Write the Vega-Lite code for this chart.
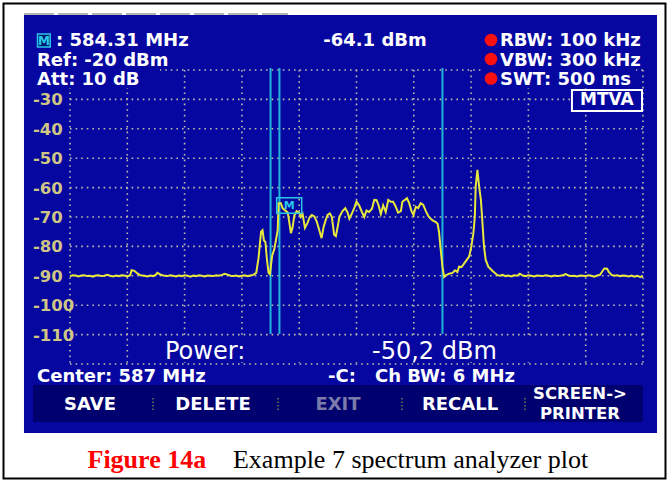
{
"$schema": "https://vega.github.io/schema/vega-lite/v6.json",
"width": 573, "height": 294,
"autosize": {"type": "none"},
"padding": {"left": 70, "top": 70, "right": 26, "bottom": 118},
"background": "white",
"config": {"view": {"stroke": null}},
"data": {"values": [{}]},
"datasets": {
"gridx": [{"g":577},{"g":579},{"g":581},{"g":583},{"g":585},{"g":587},{"g":589},{"g":591},{"g":593},{"g":595},{"g":597}],
"gridy": [{"v":-20},{"v":-30},{"v":-40},{"v":-50},{"v":-60},{"v":-70},{"v":-80},{"v":-90},{"v":-100},{"v":-110},{"v":-120}],
"ylabels": [{"v":-30,"t":"-30"},{"v":-40,"t":"-40"},{"v":-50,"t":"-50"},{"v":-60,"t":"-60"},{"v":-70,"t":"-70"},{"v":-80,"t":"-80"},{"v":-90,"t":"-90"},{"v":-100,"t":"-100"},{"v":-110,"t":"-110"}],
"vlines": [{"f":584.0},{"f":584.31},{"f":590.0}],
"seps": [{"s":579.897},{"s":584.26},{"s":588.588},{"s":592.881}],
"trace": [
{"f":577.0,"p":-90.1},{"f":577.1,"p":-89.8},{"f":577.2,"p":-89.9},{"f":577.3,"p":-90.2},{"f":577.4,"p":-89.9},{"f":577.5,"p":-89.8},{"f":577.6,"p":-90.1},{"f":577.7,"p":-90.0},{"f":577.8,"p":-90.3},{"f":577.9,"p":-89.9},
{"f":578.0,"p":-89.8},{"f":578.1,"p":-90.1},{"f":578.2,"p":-90.0},{"f":578.3,"p":-89.7},{"f":578.4,"p":-90.0},{"f":578.5,"p":-90.2},{"f":578.6,"p":-89.9},{"f":578.7,"p":-90.1},{"f":578.8,"p":-89.8},{"f":578.9,"p":-89.9},
{"f":579.0,"p":-90.2},{"f":579.1,"p":-89.8},{"f":579.15,"p":-88.1},{"f":579.25,"p":-88.3},{"f":579.35,"p":-89.2},{"f":579.45,"p":-89.8},{"f":579.6,"p":-90.0},{"f":579.7,"p":-90.2},{"f":579.8,"p":-89.9},{"f":579.9,"p":-90.1},
{"f":580.0,"p":-89.6},{"f":580.05,"p":-89.0},{"f":580.15,"p":-89.5},{"f":580.25,"p":-89.9},{"f":580.4,"p":-90.1},{"f":580.5,"p":-89.8},{"f":580.6,"p":-90.0},{"f":580.7,"p":-90.2},{"f":580.8,"p":-89.9},{"f":580.9,"p":-90.1},
{"f":581.0,"p":-89.8},{"f":581.1,"p":-90.0},{"f":581.2,"p":-90.3},{"f":581.3,"p":-89.9},{"f":581.4,"p":-90.1},{"f":581.5,"p":-89.8},{"f":581.6,"p":-90.0},{"f":581.7,"p":-90.2},{"f":581.8,"p":-89.9},{"f":581.9,"p":-90.0},
{"f":582.0,"p":-90.1},{"f":582.1,"p":-89.8},{"f":582.2,"p":-90.0},{"f":582.3,"p":-89.7},{"f":582.4,"p":-89.3},{"f":582.5,"p":-89.6},{"f":582.6,"p":-90.0},{"f":582.7,"p":-90.1},{"f":582.8,"p":-89.9},{"f":582.9,"p":-90.2},
{"f":583.0,"p":-90.0},{"f":583.1,"p":-89.8},{"f":583.2,"p":-90.1},{"f":583.3,"p":-89.9},{"f":583.4,"p":-89.7},{"f":583.5,"p":-89.0},{"f":583.58,"p":-84.0},{"f":583.63,"p":-79.0},{"f":583.67,"p":-75.0},{"f":583.72,"p":-74.5},
{"f":583.77,"p":-78.0},{"f":583.82,"p":-78.5},{"f":583.87,"p":-84.0},{"f":583.93,"p":-89.0},{"f":583.98,"p":-89.5},{"f":584.02,"p":-86.0},{"f":584.06,"p":-83.0},{"f":584.13,"p":-81.0},{"f":584.19,"p":-77.8},{"f":584.25,"p":-74.4},
{"f":584.28,"p":-65.3},{"f":584.36,"p":-65.3},{"f":584.42,"p":-67.0},{"f":584.54,"p":-68.0},{"f":584.60,"p":-68.5},{"f":584.65,"p":-71.5},{"f":584.71,"p":-75.5},{"f":584.77,"p":-73.5},{"f":584.83,"p":-69.5},{"f":584.91,"p":-68.0},
{"f":585.00,"p":-68.5},{"f":585.06,"p":-70.0},{"f":585.12,"p":-69.0},{"f":585.20,"p":-73.7},{"f":585.29,"p":-72.0},{"f":585.37,"p":-70.0},{"f":585.44,"p":-69.3},{"f":585.53,"p":-69.8},{"f":585.61,"p":-71.5},{"f":585.70,"p":-74.4},
{"f":585.78,"p":-77.2},{"f":585.85,"p":-73.5},{"f":585.91,"p":-71.5},{"f":585.99,"p":-69.3},{"f":586.07,"p":-68.8},{"f":586.14,"p":-70.0},{"f":586.22,"p":-76.0},{"f":586.28,"p":-76.5},{"f":586.34,"p":-73.5},{"f":586.40,"p":-70.0},
{"f":586.51,"p":-68.0},{"f":586.61,"p":-67.0},{"f":586.69,"p":-68.5},{"f":586.75,"p":-70.6},{"f":586.83,"p":-69.0},{"f":586.92,"p":-67.0},{"f":587.00,"p":-64.8},{"f":587.09,"p":-66.0},{"f":587.19,"p":-68.3},{"f":587.27,"p":-70.0},
{"f":587.35,"p":-67.8},{"f":587.44,"p":-68.3},{"f":587.54,"p":-67.2},{"f":587.62,"p":-64.2},{"f":587.70,"p":-64.3},{"f":587.77,"p":-66.0},{"f":587.85,"p":-69.0},{"f":587.93,"p":-66.0},{"f":588.02,"p":-68.3},{"f":588.11,"p":-64.2},
{"f":588.20,"p":-64.8},{"f":588.28,"p":-64.8},{"f":588.37,"p":-66.5},{"f":588.45,"p":-68.5},{"f":588.55,"p":-68.0},{"f":588.60,"p":-64.8},{"f":588.69,"p":-64.2},{"f":588.76,"p":-63.6},{"f":588.84,"p":-65.3},{"f":588.92,"p":-68.0},
{"f":588.99,"p":-69.3},{"f":589.07,"p":-66.5},{"f":589.15,"p":-67.0},{"f":589.24,"p":-65.3},{"f":589.33,"p":-65.9},{"f":589.42,"p":-68.0},{"f":589.51,"p":-69.7},{"f":589.59,"p":-70.6},{"f":589.67,"p":-71.2},{"f":589.77,"p":-71.7},
{"f":589.83,"p":-72.3},{"f":589.88,"p":-75.0},{"f":589.94,"p":-81.2},{"f":590.00,"p":-86.9},{"f":590.06,"p":-90.4},{"f":590.12,"p":-89.8},{"f":590.23,"p":-89.3},{"f":590.35,"p":-89.0},{"f":590.44,"p":-88.1},{"f":590.52,"p":-88.7},
{"f":590.58,"p":-86.9},{"f":590.67,"p":-87.0},{"f":590.76,"p":-85.8},{"f":590.85,"p":-84.6},{"f":590.93,"p":-83.5},{"f":591.01,"p":-80.0},{"f":591.08,"p":-75.5},{"f":591.13,"p":-70.0},{"f":591.16,"p":-59.7},{"f":591.22,"p":-54.0},
{"f":591.28,"p":-59.7},{"f":591.34,"p":-64.0},{"f":591.39,"p":-71.0},{"f":591.45,"p":-80.1},{"f":591.51,"p":-84.6},{"f":591.60,"p":-86.9},{"f":591.74,"p":-88.3},{"f":591.92,"p":-89.8},
{"f":592.0,"p":-90.0},{"f":592.1,"p":-89.7},{"f":592.2,"p":-90.1},{"f":592.3,"p":-89.9},{"f":592.4,"p":-90.2},{"f":592.5,"p":-89.8},{"f":592.6,"p":-90.0},{"f":592.7,"p":-89.3},{"f":592.8,"p":-89.9},{"f":592.9,"p":-90.1},
{"f":593.0,"p":-89.8},{"f":593.1,"p":-90.0},{"f":593.2,"p":-90.2},{"f":593.3,"p":-89.9},{"f":593.4,"p":-90.0},{"f":593.5,"p":-90.1},{"f":593.6,"p":-89.8},{"f":593.7,"p":-90.0},{"f":593.8,"p":-90.2},{"f":593.9,"p":-89.9},
{"f":594.0,"p":-90.1},{"f":594.1,"p":-90.0},{"f":594.2,"p":-89.8},{"f":594.3,"p":-89.4},{"f":594.4,"p":-89.9},{"f":594.5,"p":-90.1},{"f":594.6,"p":-90.0},{"f":594.7,"p":-90.2},{"f":594.8,"p":-89.9},{"f":594.9,"p":-90.0},
{"f":595.0,"p":-90.1},{"f":595.1,"p":-89.8},{"f":595.2,"p":-90.0},{"f":595.3,"p":-90.3},{"f":595.4,"p":-89.9},{"f":595.5,"p":-89.7},{"f":595.6,"p":-88.2},{"f":595.65,"p":-87.5},{"f":595.75,"p":-87.6},{"f":595.8,"p":-88.6},
{"f":595.9,"p":-89.7},{"f":596.0,"p":-90.0},{"f":596.1,"p":-89.8},{"f":596.2,"p":-90.1},{"f":596.3,"p":-89.9},{"f":596.4,"p":-90.0},{"f":596.5,"p":-90.2},{"f":596.6,"p":-89.9},{"f":596.7,"p":-90.3},{"f":596.8,"p":-90.0},
{"f":596.9,"p":-90.4},{"f":597.0,"p":-90.2}
]
},
"layer": [
{"mark": {"type":"rect","fill":"transparent","stroke":"black","strokeWidth":2,"clip":false},
 "encoding": {"x":{"datum":574.679,"type":"quantitative","scale":{"domain":[577,597],"nice":false,"zero":false},"axis":null},"x2":{"datum":597.785},
  "y":{"datum":2.619,"type":"quantitative","scale":{"domain":[-120,-20],"nice":false,"zero":false},"axis":null},"y2":{"datum":-158.95}}},
{"mark": {"type":"rect","fill":"#0606a0","clip":false},
 "encoding": {"x":{"datum":575.394,"axis":null},"x2":{"datum":597.489},"y":{"datum":-1.293,"axis":null},"y2":{"datum":-143.47}}},
{"mark": {"type":"rule","color":"#b4b4b4","strokeWidth":2,"strokeDash":[30,4],"clip":false},
 "encoding": {"x":{"datum":575.394,"axis":null},"x2":{"datum":584.609},"y":{"datum":-0.952,"axis":null}}},
{"data": {"name":"gridx"},
 "mark": {"type":"rule","color":"#bdbda8","strokeWidth":1.6,"strokeDash":[1.6,4],"clip":false},
 "encoding": {"x":{"field":"g","type":"quantitative","scale":{"domain":[577,597],"nice":false,"zero":false},"axis":null},"y":{"datum":-20,"axis":null},"y2":{"datum":-120}}},
{"data": {"name":"gridy"},
 "mark": {"type":"rule","color":"#bdbda8","strokeWidth":1.6,"strokeDash":[1.6,4],"clip":false},
 "encoding": {"y":{"field":"v","type":"quantitative","scale":{"domain":[-120,-20],"nice":false,"zero":false},"axis":null},
  "x":{"datum":577,"axis":null},"x2":{"datum":597}}},
{"mark": {"type":"rect","fill":"#0606a0","clip":false},
 "encoding": {"x":{"datum":575.604,"axis":null},"x2":{"datum":580.141},"y":{"datum":-19.66,"axis":null},"y2":{"datum":-26.12}}},
{"mark": {"type":"rect","fill":"#0606a0","clip":false},
 "encoding": {"x":{"datum":591.45,"axis":null},"x2":{"datum":596.756},"y":{"datum":-19.66,"axis":null},"y2":{"datum":-26.12}}},
{"mark": {"type":"rect","fill":"#0606a0","clip":false},
 "encoding": {"x":{"datum":579.27,"axis":null},"x2":{"datum":594.8},"y":{"datum":-110.6,"axis":null},"y2":{"datum":-119.3}}},
{"data": {"name":"ylabels"},
 "mark": {"type":"text","font":"DejaVu Sans","fontWeight":"bold","fontSize":16.5,"color":"#cfc585","align":"left","baseline":"middle","dy":1,"clip":false},
 "encoding": {"y":{"field":"v","type":"quantitative","axis":null},"x":{"datum":575.709,"axis":null},"text":{"field":"t"}}},
{"mark": {"type":"rect","fill":"#0606a0","stroke":"white","strokeWidth":2,"clip":false},
 "encoding": {"x":{"datum":594.52,"axis":null},"x2":{"datum":596.965},"y":{"datum":-26.8,"axis":null},"y2":{"datum":-33.95}}},
{"mark": {"type":"text","text":"MTVA","font":"DejaVu Sans","fontWeight":"bold","fontSize":17,"color":"white","align":"center","baseline":"middle","clip":false},
 "encoding": {"x":{"datum":595.74,"axis":null},"y":{"datum":-30.37,"axis":null}}},
{"data": {"name":"vlines"},
 "mark": {"type":"rule","color":"#1fb4dc","strokeWidth":2,"clip":false},
 "encoding": {"x":{"field":"f","type":"quantitative","axis":null},"y":{"datum":-19.32,"axis":null},"y2":{"datum":-109.8}}},
{"data": {"name":"trace"},
 "mark": {"type":"line","color":"#e8e83c","strokeWidth":2,"clip":false},
 "encoding": {"x":{"field":"f","type":"quantitative","scale":{"domain":[577,597],"nice":false,"zero":false},"axis":null},
  "y":{"field":"p","type":"quantitative","scale":{"domain":[-120,-20],"nice":false,"zero":false},"axis":null}}},
{"mark": {"type":"rect","fill":"transparent","stroke":"#28c8e8","strokeWidth":1.5,"clip":false},
 "encoding": {"x":{"datum":584.215,"axis":null},"x2":{"datum":585.088},"y":{"datum":-63.44,"axis":null},"y2":{"datum":-68.74}}},
{"mark": {"type":"text","text":"M","font":"DejaVu Sans","fontWeight":"bold","fontSize":11,"color":"#28c8e8","align":"center","baseline":"middle","clip":false},
 "encoding": {"x":{"datum":584.65,"axis":null},"y":{"datum":-66.1,"axis":null}}},
{"mark": {"type":"rect","fill":"#001a70","stroke":"#28c8e8","strokeWidth":1.5,"clip":false},
 "encoding": {"x":{"datum":575.866,"axis":null},"x2":{"datum":576.309},"y":{"datum":-7.755,"axis":null},"y2":{"datum":-12.18}}},
{"mark": {"type":"text","text":"M","font":"DejaVu Sans","fontWeight":"bold","fontSize":12,"color":"#28c8e8","align":"center","baseline":"middle","clip":false},
 "encoding": {"x":{"datum":576.088,"axis":null},"y":{"datum":-9.97,"axis":null}}},
{"mark": {"type":"text","text":": 584.31 MHz","font":"DejaVu Sans","fontWeight":"bold","fontSize":18,"color":"white","align":"left","baseline":"alphabetic","clip":false},
 "encoding": {"x":{"datum":576.51,"axis":null},"y":{"datum":-11.84,"axis":null}}},
{"mark": {"type":"text","text":"Ref: -20 dBm","font":"DejaVu Sans","fontWeight":"bold","fontSize":18,"color":"white","align":"left","baseline":"alphabetic","clip":false},
 "encoding": {"x":{"datum":575.848,"axis":null},"y":{"datum":-18.47,"axis":null}}},
{"mark": {"type":"text","text":"Att: 10 dB","font":"DejaVu Sans","fontWeight":"bold","fontSize":18,"color":"white","align":"left","baseline":"alphabetic","clip":false},
 "encoding": {"x":{"datum":575.848,"axis":null},"y":{"datum":-25.1,"axis":null}}},
{"mark": {"type":"text","text":"-64.1 dBm","font":"DejaVu Sans","fontWeight":"bold","fontSize":18,"color":"white","align":"center","baseline":"alphabetic","clip":false},
 "encoding": {"x":{"datum":587.646,"axis":null},"y":{"datum":-11.84,"axis":null}}},
{"mark": {"type":"point","shape":"circle","filled":true,"color":"#ff1010","size":160,"opacity":1,"clip":false},
 "encoding": {"x":{"datum":591.695,"axis":null},"y":{"datum":-9.8,"axis":null}}},
{"mark": {"type":"point","shape":"circle","filled":true,"color":"#ff1010","size":160,"opacity":1,"clip":false},
 "encoding": {"x":{"datum":591.695,"axis":null},"y":{"datum":-16.26,"axis":null}}},
{"mark": {"type":"point","shape":"circle","filled":true,"color":"#ff1010","size":160,"opacity":1,"clip":false},
 "encoding": {"x":{"datum":591.695,"axis":null},"y":{"datum":-22.89,"axis":null}}},
{"mark": {"type":"text","text":"RBW: 100 kHz","font":"DejaVu Sans","fontWeight":"bold","fontSize":18,"color":"white","align":"left","baseline":"alphabetic","clip":false},
 "encoding": {"x":{"datum":592.009,"axis":null},"y":{"datum":-11.84,"axis":null}}},
{"mark": {"type":"text","text":"VBW: 300 kHz","font":"DejaVu Sans","fontWeight":"bold","fontSize":18,"color":"white","align":"left","baseline":"alphabetic","clip":false},
 "encoding": {"x":{"datum":592.009,"axis":null},"y":{"datum":-18.47,"axis":null}}},
{"mark": {"type":"text","text":"SWT: 500 ms","font":"DejaVu Sans","fontWeight":"bold","fontSize":18,"color":"white","align":"left","baseline":"alphabetic","clip":false},
 "encoding": {"x":{"datum":592.009,"axis":null},"y":{"datum":-25.1,"axis":null}}},
{"mark": {"type":"text","text":"Power:","font":"DejaVu Sans","fontSize":24,"color":"white","align":"left","baseline":"alphabetic","clip":false},
 "encoding": {"x":{"datum":580.316,"axis":null},"y":{"datum":-118.3,"axis":null}}},
{"mark": {"type":"text","text":"-50,2 dBm","font":"DejaVu Sans","fontSize":24,"color":"white","align":"left","baseline":"alphabetic","clip":false},
 "encoding": {"x":{"datum":587.541,"axis":null},"y":{"datum":-118.3,"axis":null}}},
{"mark": {"type":"text","text":"Center: 587 MHz","font":"DejaVu Sans","fontWeight":"bold","fontSize":18,"color":"white","align":"left","baseline":"alphabetic","clip":false},
 "encoding": {"x":{"datum":575.848,"axis":null},"y":{"datum":-126.12,"axis":null}}},
{"mark": {"type":"text","text":"-C:","font":"DejaVu Sans","fontWeight":"bold","fontSize":18,"color":"white","align":"left","baseline":"alphabetic","clip":false},
 "encoding": {"x":{"datum":586.005,"axis":null},"y":{"datum":-126.12,"axis":null}}},
{"mark": {"type":"text","text":"Ch BW: 6 MHz","font":"DejaVu Sans","fontWeight":"bold","fontSize":18,"color":"white","align":"left","baseline":"alphabetic","clip":false},
 "encoding": {"x":{"datum":587.646,"axis":null},"y":{"datum":-126.12,"axis":null}}},
{"mark": {"type":"rect","fill":"#00006e","clip":false},
 "encoding": {"x":{"datum":575.709,"axis":null},"x2":{"datum":597.0},"y":{"datum":-127.14,"axis":null},"y2":{"datum":-139.73}}},
{"data": {"name":"seps"},
 "mark": {"type":"rule","color":"#5f845f","strokeWidth":1.5,"strokeDash":[1.5,2],"clip":false},
 "encoding": {"x":{"field":"s","type":"quantitative","axis":null},"y":{"datum":-131.56,"axis":null},"y2":{"datum":-136.33}}},
{"mark": {"type":"text","text":"SAVE","font":"DejaVu Sans","fontWeight":"bold","fontSize":18,"color":"white","align":"center","baseline":"middle","clip":false},
 "encoding": {"x":{"datum":577.698,"axis":null},"y":{"datum":-133.78,"axis":null}}},
{"mark": {"type":"text","text":"DELETE","font":"DejaVu Sans","fontWeight":"bold","fontSize":18,"color":"white","align":"center","baseline":"middle","clip":false},
 "encoding": {"x":{"datum":581.991,"axis":null},"y":{"datum":-133.78,"axis":null}}},
{"mark": {"type":"text","text":"EXIT","font":"DejaVu Sans","fontWeight":"bold","fontSize":18,"color":"#7c7caa","align":"center","baseline":"middle","clip":false},
 "encoding": {"x":{"datum":586.354,"axis":null},"y":{"datum":-133.78,"axis":null}}},
{"mark": {"type":"text","text":"RECALL","font":"DejaVu Sans","fontWeight":"bold","fontSize":18,"color":"white","align":"center","baseline":"middle","clip":false},
 "encoding": {"x":{"datum":590.613,"axis":null},"y":{"datum":-133.78,"axis":null}}},
{"mark": {"type":"text","text":"SCREEN->","font":"DejaVu Sans","fontWeight":"bold","fontSize":16.5,"color":"white","align":"center","baseline":"middle","clip":false},
 "encoding": {"x":{"datum":594.8,"axis":null},"y":{"datum":-130.3,"axis":null}}},
{"mark": {"type":"text","text":"PRINTER","font":"DejaVu Sans","fontWeight":"bold","fontSize":16.5,"color":"white","align":"center","baseline":"middle","clip":false},
 "encoding": {"x":{"datum":594.8,"axis":null},"y":{"datum":-137.0,"axis":null}}},
{"mark": {"type":"text","text":"Figure 14a","font":"Liberation Serif","fontWeight":"bold","fontSize":26,"color":"#ff0000","align":"left","baseline":"alphabetic","clip":false},
 "encoding": {"x":{"datum":577.611,"axis":null},"y":{"datum":-155.37,"axis":null}}},
{"mark": {"type":"text","text":"Example 7 spectrum analyzer plot","font":"Liberation Serif","fontSize":26,"color":"black","align":"left","baseline":"alphabetic","clip":false},
 "encoding": {"x":{"datum":582.689,"axis":null},"y":{"datum":-155.37,"axis":null}}}
]
}
